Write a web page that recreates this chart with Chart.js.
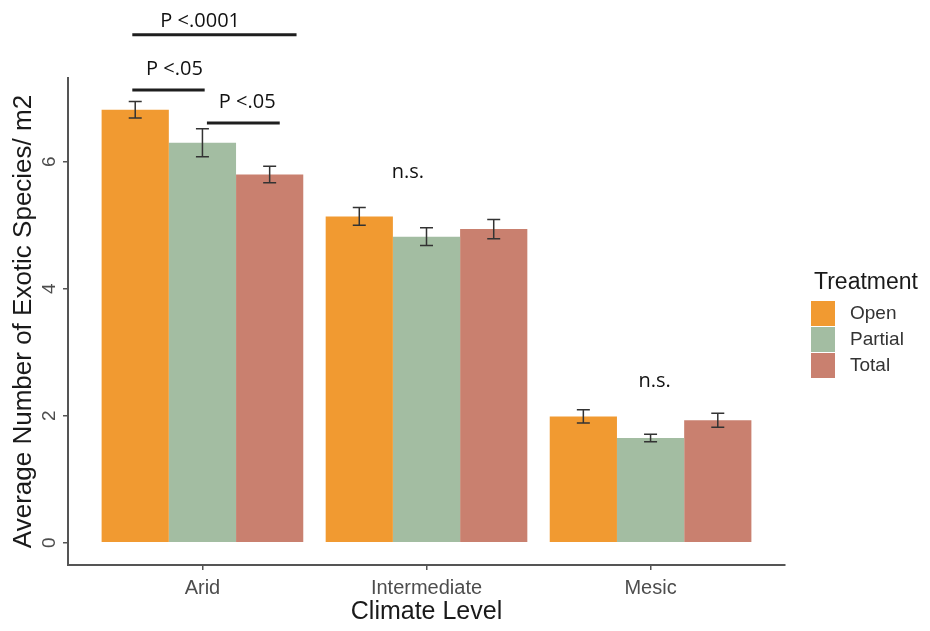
<!DOCTYPE html>
<html>
<head>
<meta charset="utf-8">
<script src="https://cdn.jsdelivr.net/npm/chart.js@4.4.1/dist/chart.umd.min.js"></script>
<style>
  html, body { margin: 0; padding: 0; background: #ffffff; }
  #wrap { width: 930px; height: 631px; position: relative; }
</style>
</head>
<body>
<div id="wrap"><canvas id="chart" width="930" height="631"></canvas></div>
<script>
// ---- data ----
const climateLevels = ['Arid', 'Intermediate', 'Mesic'];
const treatments = ['Open', 'Partial', 'Total'];
const openMeans = [6.82, 5.14, 1.99];
const openSE = [0.13, 0.14, 0.105];
const partialMeans = [6.30, 4.82, 1.65];
const partialSE = [0.22, 0.14, 0.06];
const totalMeans = [5.80, 4.94, 1.93];
const totalSE = [0.13, 0.15, 0.11];
const yTickValues = [0, 2, 4, 6];

// significance labels
const bracketLabels = ['P <.0001', 'P <.05', 'P <.05'];
const nsLabels = ['n.s.', 'n.s.'];

// ---- appearance / placement of annotations (x in category units, y in value units) ----
const colors = ['#F19A31', '#A3BDA2', '#C9806F'];
const bracketGeom = [
  { x0: 0.687, x1: 1.42, y: 8.00, tx: 0.99, ty: 8.21 },
  { x0: 0.687, x1: 1.01, y: 7.13, tx: 0.875, ty: 7.45 },
  { x0: 1.02, x1: 1.345, y: 6.61, tx: 1.20, ty: 6.93 }
];
const nsGeom = [
  { x: 1.917, y: 5.84 },
  { x: 3.018, y: 2.55 }
];

const meansBySeries = [openMeans, partialMeans, totalMeans];
const seBySeries = [openSE, partialSE, totalSE];

const datasets = treatments.map((name, s) => ({
  label: name,
  data: climateLevels.map((c, i) => ({ x: i + 1, y: meansBySeries[s][i] })),
  se: seBySeries[s],
  backgroundColor: colors[s],
  borderWidth: 0,
  barPercentage: 1.0,
  categoryPercentage: 0.9
}));

const SANS = "'Liberation Sans', Arial, sans-serif";
const ANNOT = "'Open Sans', sans-serif";

const decor = {
  id: 'decor',
  afterDatasetsDraw(chart) {
    const ctx = chart.ctx;
    const ys = chart.scales.y;
    ctx.save();
    ctx.strokeStyle = '#333333';
    ctx.lineWidth = 1.5;
    chart.data.datasets.forEach((ds, di) => {
      const meta = chart.getDatasetMeta(di);
      meta.data.forEach((bar, i) => {
        const m = ds.data[i].y, e = ds.se[i];
        const yt = ys.getPixelForValue(m + e);
        const yb = ys.getPixelForValue(m - e);
        const hw = 6.5;
        ctx.beginPath();
        ctx.moveTo(bar.x, yt); ctx.lineTo(bar.x, yb);
        ctx.moveTo(bar.x - hw, yt); ctx.lineTo(bar.x + hw, yt);
        ctx.moveTo(bar.x - hw, yb); ctx.lineTo(bar.x + hw, yb);
        ctx.stroke();
      });
    });
    ctx.restore();
  },
  afterDraw(chart) {
    const ctx = chart.ctx;
    const xs = chart.scales.x, ys = chart.scales.y;
    ctx.save();
    // significance brackets
    ctx.strokeStyle = '#1e1e1e';
    ctx.lineWidth = 3;
    ctx.fillStyle = '#111111';
    ctx.font = '20px ' + ANNOT;
    ctx.textAlign = 'center';
    ctx.textBaseline = 'middle';
    bracketGeom.forEach((b, k) => {
      const y = ys.getPixelForValue(b.y);
      ctx.beginPath();
      ctx.moveTo(xs.getPixelForValue(b.x0), y);
      ctx.lineTo(xs.getPixelForValue(b.x1), y);
      ctx.stroke();
      ctx.fillText(bracketLabels[k], xs.getPixelForValue(b.tx), ys.getPixelForValue(b.ty));
    });
    nsGeom.forEach((n, k) => {
      ctx.fillText(nsLabels[k], xs.getPixelForValue(n.x), ys.getPixelForValue(n.y));
    });

    // legend
    ctx.textAlign = 'left';
    ctx.fillStyle = '#1a1a1a';
    ctx.font = '23px ' + SANS;
    ctx.fillText('Treatment', 814, 283);
    ctx.font = '19px ' + SANS;
    chart.data.datasets.forEach((ds, i) => {
      const y0 = 301 + i * 26;
      ctx.fillStyle = ds.backgroundColor;
      ctx.fillRect(811, y0, 24, 25);
      ctx.fillStyle = '#333333';
      ctx.fillText(ds.label, 850, y0 + 13);
    });
    ctx.restore();
  }
};

new Chart(document.getElementById('chart'), {
  type: 'bar',
  data: { datasets },
  plugins: [decor],
  options: {
    responsive: false,
    devicePixelRatio: 1,
    animation: false,
    layout: { padding: { left: 0, top: 78, right: 145, bottom: 0 } },
    plugins: { legend: { display: false }, tooltip: { enabled: false } },
    scales: {
      x: {
        type: 'linear',
        min: 0.4,
        max: 3.6,
        offset: false,
        afterBuildTicks(scale) { scale.ticks = climateLevels.map((c, i) => ({ value: i + 1 })); },
        afterFit(scale) { scale.height = 66; },
        ticks: {
          color: '#4d4d4d',
          font: { family: SANS, size: 20 },
          padding: 6,
          autoSkip: false,
          maxRotation: 0,
          callback: (v) => climateLevels[Math.round(v) - 1] || ''
        },
        grid: { display: true, offset: false, drawOnChartArea: false, drawTicks: true, tickLength: 5, color: '#555555', lineWidth: 1.5 },
        border: { display: true, color: '#555555', width: 2 },
        title: {
          display: true,
          text: 'Climate Level',
          color: '#1a1a1a',
          font: { family: SANS, size: 25 },
          padding: { top: 0, bottom: 4 }
        }
      },
      y: {
        type: 'linear',
        min: -0.35,
        max: 7.32,
        afterBuildTicks(scale) { scale.ticks = yTickValues.map(v => ({ value: v })); },
        afterFit(scale) { scale.width = 68; },
        ticks: {
          color: '#4d4d4d',
          font: { family: SANS, size: 19 },
          minRotation: 90,
          maxRotation: 90,
          crossAlign: 'center',
          padding: 8
        },
        grid: { display: true, drawOnChartArea: false, drawTicks: true, tickLength: 5, color: '#555555', lineWidth: 1.5 },
        border: { display: true, color: '#555555', width: 2 },
        title: {
          display: true,
          text: 'Average Number of Exotic Species/ m2',
          color: '#1a1a1a',
          font: { family: SANS, size: 26 },
          padding: { top: 8, bottom: 0 }
        }
      }
    }
  }
});
</script>
</body>
</html>
